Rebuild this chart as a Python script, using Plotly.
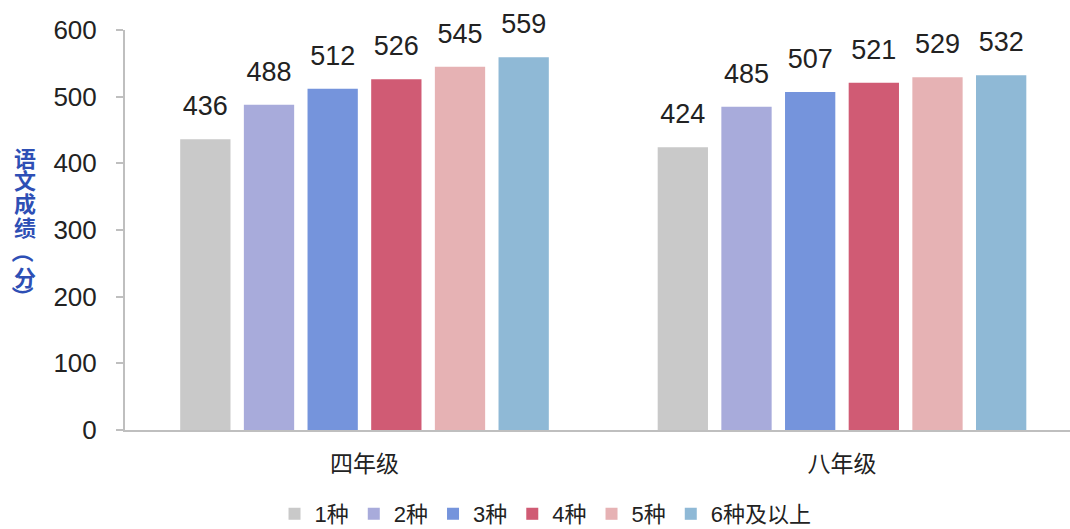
import plotly.graph_objects as go

categories = ["四年级", "八年级"]
series_names = ["1种", "2种", "3种", "4种", "5种", "6种及以上"]
values_1 = [436, 424]
values_2 = [488, 485]
values_3 = [512, 507]
values_4 = [526, 521]
values_5 = [545, 529]
values_6 = [559, 532]
all_values = [values_1, values_2, values_3, values_4, values_5, values_6]
colors = ["#C9C9C9", "#A8ABDB", "#7594DC", "#D05B74", "#E6B2B4", "#8FB9D6"]
y_ticks = [0, 100, 200, 300, 400, 500, 600]
y_title_chars = ["语", "文", "成", "绩", "（", "分", "）"]

font_family = "Liberation Sans, Noto Sans CJK SC, sans-serif"
GAP = 0.2

fig = go.Figure()
for name, vals, col in zip(series_names, all_values, colors):
    fig.add_trace(go.Bar(
        x=categories, y=vals, name=name,
        marker=dict(color=col, line=dict(width=0)),
        offsetgroup=name, alignmentgroup="a",
        hoverinfo="skip",
    ))
for name, vals in zip(series_names, all_values):
    fig.add_trace(go.Scatter(
        x=categories, y=vals, mode="markers+text",
        text=[str(v) for v in vals], textposition="top center",
        textfont=dict(size=27, color="#222222", family=font_family),
        marker=dict(size=26, opacity=0),
        offsetgroup=name, alignmentgroup="a",
        showlegend=False, cliponaxis=False, hoverinfo="skip",
    ))

fig.update_layout(
    width=1070, height=529,
    margin=dict(l=125, r=0, t=30, b=99, autoexpand=False),
    paper_bgcolor="white", plot_bgcolor="white",
    barmode="group", bargap=GAP, bargroupgap=0.21,
    scattermode="group", scattergap=GAP,
    font=dict(family=font_family, color="#222222"),
    showlegend=True,
    legend=dict(orientation="h", x=0.445, xanchor="center", y=-0.21, yanchor="middle",
                font=dict(size=22, color="#222222", family=font_family),
                itemwidth=30, traceorder="normal"),
)
fig.update_xaxes(
    type="category", range=[-0.5016, 1.4775],
    showline=True, linecolor="#BFBFBF", linewidth=2,
    ticks="", tickfont=dict(size=23, color="#222222"),
    ticklabelstandoff=12, showgrid=False, zeroline=False,
)
fig.update_yaxes(
    range=[0, 600], tickvals=y_ticks,
    showline=True, linecolor="#BFBFBF", linewidth=2,
    ticks="outside", ticklen=7, tickcolor="#BFBFBF", tickwidth=2,
    tickfont=dict(size=26, color="#222222"),
    ticklabelstandoff=14,
    showgrid=False, zeroline=False,
)
# vertical y-axis title, one upright character per line
centers_px = [157, 179, 202, 226, 252, 276, 297]
for ch, py in zip(y_title_chars, centers_px):
    is_paren = ch in "（）"
    fig.add_annotation(
        text="<b>%s</b>" % ch,
        xref="paper", yref="paper", x=(25 - 125) / 945, y=(430 - py) / 400,
        xanchor="center", yanchor="middle", showarrow=False,
        textangle=90 if is_paren else 0,
        font=dict(size=22, color="#2E4FB5", family="Noto Sans CJK SC"),
    )
fig.write_html("out.html", config={"displayModeBar": False},
               post_script="document.body.style.margin='0';document.body.style.padding='0';")
